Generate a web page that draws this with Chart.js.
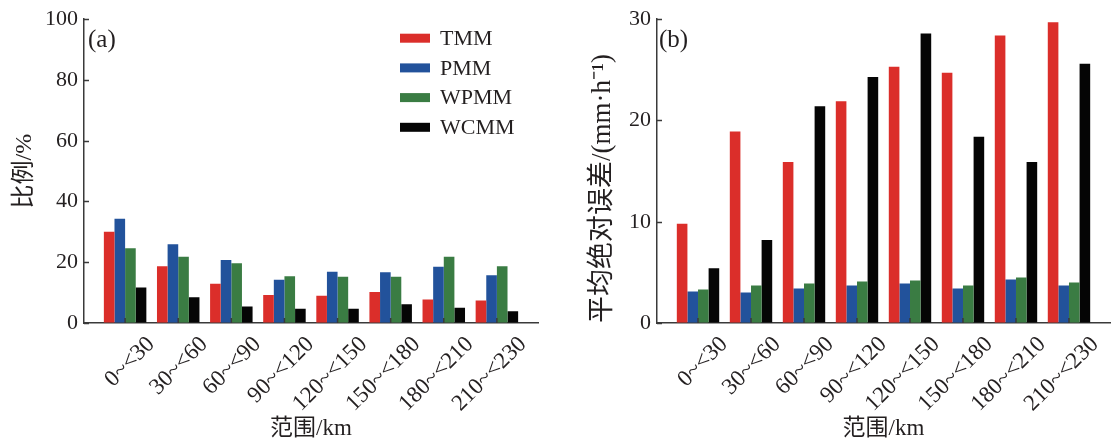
<!DOCTYPE html>
<html><head><meta charset="utf-8">
<script src="https://cdn.jsdelivr.net/npm/chart.js@4.4.1/dist/chart.umd.min.js"></script>
<style>
html,body{margin:0;padding:0;background:#fff;width:1111px;height:445px;overflow:hidden}
.p{position:absolute;top:0;height:445px}
</style></head><body>
<div class="p" style="left:0;width:556px"><canvas id="ca"></canvas></div>
<div class="p" style="left:556px;width:555px"><canvas id="cb"></canvas></div>
<script>
const categories = ['0~<30','30~<60','60~<90','90~<120','120~<150','150~<180','180~<210','210~<230'];
const seriesNames = ['TMM','PMM','WPMM','WCMM'];
const seriesColors = ['#db2e2a','#22529b','#3a7c43','#050505'];
// (a) 比例/%
const ratioTMM  = [30.0, 18.7, 12.9, 9.2, 9.0, 10.2, 7.7, 7.4];
const ratioPMM  = [34.3, 25.9, 20.7, 14.2, 16.9, 16.7, 18.5, 15.7];
const ratioWPMM = [24.6, 21.8, 19.7, 15.4, 15.2, 15.2, 21.8, 18.7];
const ratioWCMM = [11.7, 8.5, 5.4, 4.7, 4.7, 6.2, 5.0, 3.9];
// (b) 平均绝对误差/(mm·h⁻¹)
const maeTMM  = [9.8, 18.9, 15.9, 21.9, 25.3, 24.7, 28.4, 29.7];
const maePMM  = [3.1, 3.0, 3.4, 3.7, 3.9, 3.4, 4.3, 3.7];
const maeWPMM = [3.3, 3.7, 3.9, 4.1, 4.2, 3.7, 4.5, 4.0];
const maeWCMM = [5.4, 8.2, 21.4, 24.3, 28.6, 18.4, 15.9, 25.6];
const yTicksA = [0,20,40,60,80,100];
const yTicksB = [0,10,20,30];

const FONT = "'Liberation Serif','Noto Sans CJK SC',serif";
const TXT = '#231f20';
const AXIS = '#3a3a3a';

function mk(vals){ return vals.map((v,i)=>({x:i,y:v})); }
function datasets(arrs){
  return arrs.map((a,k)=>({label:seriesNames[k], data:mk(a), backgroundColor:seriesColors[k], borderWidth:0,
    categoryPercentage:0.8, barPercentage:1.0}));
}

const inwardTicks = {
  id:'inwardTicks',
  afterDatasetsDraw(chart){
    const {ctx} = chart; const xs = chart.scales.x, ys = chart.scales.y;
    ctx.save(); ctx.strokeStyle = AXIS; ctx.lineWidth = 1.5;
    ys.ticks.forEach(t=>{ const p = Math.round(ys.getPixelForValue(t.value))+0.5;
      ctx.beginPath(); ctx.moveTo(ys.right, p); ctx.lineTo(ys.right+5, p); ctx.stroke(); });
    xs.ticks.forEach(t=>{ const p = xs.getPixelForValue(t.value);
      ctx.beginPath(); ctx.moveTo(p, xs.top); ctx.lineTo(p, xs.top-5); ctx.stroke(); });
    ctx.restore();
  }
};
const panelLabel = {
  id:'panelLabel',
  afterDraw(chart, args, opts){
    const {ctx, chartArea} = chart;
    ctx.save(); ctx.fillStyle = TXT; ctx.font = "25px " + FONT; ctx.textBaseline='middle'; ctx.textAlign='left';
    ctx.fillText(opts.text, chartArea.left + opts.dx, chartArea.top + opts.dy);
    ctx.restore();
  }
};
const boxLegend = {
  id:'boxLegend',
  afterDraw(chart, args, opts){
    if(!opts.show) return;
    const {ctx, chartArea} = chart;
    ctx.save(); ctx.font = "22px " + FONT; ctx.textBaseline='middle'; ctx.textAlign='left';
    chart.data.datasets.forEach((ds,i)=>{
      const y = chartArea.top + opts.dy + i*opts.gap;
      const x = chartArea.left + opts.dx;
      ctx.fillStyle = ds.backgroundColor; ctx.fillRect(x, y-4.5, 30, 9);
      ctx.fillStyle = TXT; ctx.fillText(ds.label, x+40, y+1);
    });
    ctx.restore();
  }
};

function makeChart(id, arrs, yMax, yTicks, yTitle, yTitleSize, yTitlePad, yTitleAlign, yWidth, pad, label, labelDx, legend){
  return new Chart(document.getElementById(id), {
    type:'bar',
    data:{ datasets: datasets(arrs) },
    plugins:[inwardTicks, panelLabel, boxLegend],
    options:{
      responsive:true, maintainAspectRatio:false, animation:false,
      layout:{ padding: pad },
      plugins:{ legend:{display:false}, tooltip:{enabled:false},
        panelLabel:{text:label, dx:labelDx, dy:21},
        boxLegend:{show:legend, dx:316, dy:19, gap:29.7} },
      scales:{
        x:{ type:'linear', offset:false, min:-0.774, max:7.774,
          afterBuildTicks(s){ s.ticks = categories.map((_,i)=>({value:i})); },
          afterFit(s){ s.height = 122; },
          grid:{ drawOnChartArea:false, drawTicks:false, offset:false },
          border:{ display:true, color:AXIS, width:1.5 },
          ticks:{ autoSkip:false, maxRotation:45, minRotation:45, padding:8, labelOffset:26,
            color:TXT, font:{family:FONT, size:23},
            callback:(v)=>categories[v] },
          title:{ display:true, text:'范围/km', color:TXT, font:{family:FONT, size:23}, padding:{bottom:2} }
        },
        y:{ min:0, max:yMax,
          afterBuildTicks(s){ s.ticks = yTicks.map(v=>({value:v})); },
          afterFit(s){ s.width = yWidth; },
          grid:{ drawOnChartArea:false, drawTicks:false },
          border:{ display:true, color:AXIS, width:1.5 },
          ticks:{ padding:6, color:TXT, font:{family:FONT, size:22} },
          title:{ display:true, text:yTitle, align:yTitleAlign, color:TXT, font:{family:FONT, size:yTitleSize}, padding:{top:yTitlePad} }
        }
      }
    }
  });
}

makeChart('ca', [ratioTMM, ratioPMM, ratioWPMM, ratioWCMM], 100, yTicksA, '比例/%', 24, 10, 'center', 84,
  {top:18, right:18, left:0, bottom:0}, '(a)', 4, true);
makeChart('cb', [maeTMM, maePMM, maeWPMM, maeWCMM], 30, yTicksB, '平均绝对误差/(mm·h⁻¹)', 27, 31, 'start', 101,
  {top:18, right:1, left:0, bottom:0}, '(b)', 2, false);
</script>
</body></html>
